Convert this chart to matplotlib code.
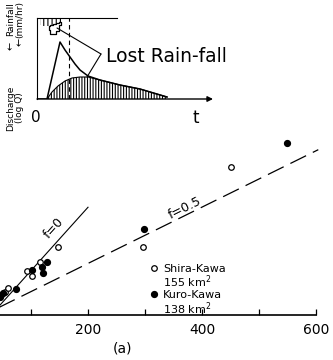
# Runoff vs rainfall sketch, with a hydrograph inset (scan re-drawn)

import matplotlib
matplotlib.use("Agg")
import matplotlib.pyplot as plt
from matplotlib.lines import Line2D

# ---------------------------------------------------------
# DATA
# ---------------------------------------------------------

# Shira-Kawa (open circles)
shira_x = [47, 54, 60, 93, 102, 116, 147, 296, 451]
shira_y = [35, 40, 47, 77, 68, 93, 119, 119, 260]

# Kuro-Kawa (filled circles)
kuro_x = [46, 51, 74, 102, 119, 121, 128, 298, 549]
kuro_y = [32, 39, 46, 79, 84, 74, 93, 151, 302]

# reference lines
f0_x = [30, 200]
f0_y = [0, 189]
f05_x = [17, 604]
f05_y = [0, 290]

x_ticks = [100, 200, 300, 400, 500, 600]
x_tick_labels = ["", "200", "", "400", "", "600"]

# inset hydrograph (t, Q) in arbitrary units
hydro_t = [0, 10, 23, 28, 33, 38, 43, 51, 63, 83, 103, 130]
hydro_q = [0, 0, 57, 49, 42, 35, 29, 23, 19, 14, 10, 2]

base_t = [10, 15, 21, 28, 35, 43, 51, 63, 83, 103, 130]
base_q = [0, 7, 13, 18, 21, 22, 22, 19, 14, 10, 2]

rain_t = [2.5, 5.5, 8.5, 11.5, 14.5, 17.5, 20.5, 23.5]
rain_eff = [7, 8, 8, 8, 7, 6, 5, 4]
rain_loss = [0, 0, 0, 4, 9, 10, 8, 3]

rain_end_t = 32
rain_top = 81

# ---------------------------------------------------------
# FIGURE
# ---------------------------------------------------------

fig = plt.figure(figsize=(3.33, 3.60), dpi=100)

ax = fig.add_axes([0, 0, 1, 1])
ax.set_xlim(45.6, 629.8)
ax.set_ylim(-79, 552.6)
ax.patch.set_alpha(0)

for side in ["left", "right", "top"]:
    ax.spines[side].set_visible(False)
ax.spines["bottom"].set_position(("data", 0))
ax.spines["bottom"].set_bounds(45.6, 600)
ax.spines["bottom"].set_linewidth(1.2)

ax.set_xticks(x_ticks)
ax.set_xticklabels(x_tick_labels, fontsize=10)
ax.tick_params(axis="x", direction="in", length=4, width=0.9, pad=6)
ax.set_yticks([])

ax.plot(f0_x, f0_y, color="black", lw=0.8)
ax.plot(f05_x, f05_y, color="black", lw=0.9, dashes=(14, 6))

ax.text(140, 152, "f=0", rotation=48, rotation_mode="anchor",
        ha="center", va="center", fontsize=9)
ax.text(375, 178, "f=0.5", rotation=26.3, rotation_mode="anchor",
        ha="center", va="bottom", fontsize=9)

ax.plot(shira_x, shira_y, "o", ms=4, mfc="white", mec="black", mew=0.9,
        linestyle="none")
ax.plot(kuro_x, kuro_y, "o", ms=4.2, mfc="black", mec="black",
        linestyle="none")

ax.text(260, -58, "(a)", ha="center", va="center", fontsize=10)

# legend
handles = [
    Line2D([], [], marker="o", ms=4, mfc="white", mec="black", mew=0.9, ls="none"),
    Line2D([], [], ls="none"),
    Line2D([], [], marker="o", ms=4.2, mfc="black", mec="black", ls="none"),
    Line2D([], [], ls="none"),
]
labels = ["Shira-Kawa", "155 km$^2$", "Kuro-Kawa", "138 km$^2$"]
fig.legend(handles, labels, loc="upper left",
           bbox_to_anchor=(0.449, 0.268), frameon=False, fontsize=8,
           handlelength=0.8, handletextpad=0.4, labelspacing=0.0,
           borderpad=0, borderaxespad=0)

# ---------------------------------------------------------
# INSET HYDROGRAPH
# ---------------------------------------------------------

ax_in = fig.add_axes([37 / 333, 1 - 99 / 360, 173 / 333, 81 / 360])
ax_in.set_xlim(0, 173)
ax_in.set_ylim(0, 81)
ax_in.patch.set_alpha(0)
ax_in.set_xticks([])
ax_in.set_yticks([])
ax_in.spines["right"].set_visible(False)
ax_in.spines["bottom"].set_visible(False)
ax_in.spines["top"].set_bounds(0, 80)

plt.rcParams["hatch.linewidth"] = 0.8

ax_in.fill_between(base_t, 0, base_q, facecolor="none", edgecolor="black",
                   hatch="||||||", linewidth=0)
ax_in.plot(base_t, base_q, color="black", lw=0.8)
ax_in.plot(hydro_t, hydro_q, color="black", lw=1.1)

# rainfall hanging from the top line, lost part outlined below it
eff_bottom = [rain_top - d for d in rain_eff]
loss_bottom = [b - l for b, l in zip(eff_bottom, rain_loss)]
ax_in.fill_between(rain_t, rain_top, eff_bottom, step="mid",
                   facecolor="none", edgecolor="black", hatch="||||",
                   linewidth=0)
ax_in.fill_between(rain_t[3:], eff_bottom[3:], loss_bottom[3:], step="mid",
                   facecolor="white", edgecolor="black", linewidth=0.9)

ax_in.axvline(rain_end_t, color="black", lw=0.8, dashes=(4, 3))

ax_in.annotate("", xy=(176, 0), xytext=(0, 0), annotation_clip=False,
               arrowprops=dict(arrowstyle="-|>", color="black", lw=1,
                               mutation_scale=8, shrinkA=0, shrinkB=0))

for target in [(20, 71), (50, 22)]:
    ax_in.annotate("", xy=target, xytext=(64, 45),
                   arrowprops=dict(arrowstyle="-", color="black", lw=0.8,
                                   shrinkA=0, shrinkB=0))
ax_in.text(69, 42, "Lost Rain-fall", ha="left", va="center", fontsize=13.5)

ax_in.text(-1, -18, "0", ha="center", va="center", fontsize=11, clip_on=False)
ax_in.text(159, -19, "t", ha="center", va="center", fontsize=12, clip_on=False)

# rotated axis captions of the inset
fig.text(11 / 333, 1 - 19 / 360, "Rainfall", rotation=90, ha="center",
         va="center", fontsize=6.5)
fig.text(20 / 333, 1 - 19 / 360, "(mm/hr)", rotation=90, ha="center",
         va="center", fontsize=6.5)
fig.text(11 / 333, 1 - 46 / 360, "\u2190", rotation=90, ha="center",
         va="center", fontsize=7)
fig.text(20 / 333, 1 - 42 / 360, "\u2190", rotation=90, ha="center",
         va="center", fontsize=7)
fig.text(11 / 333, 1 - 108 / 360, "Discharge", rotation=90, ha="center",
         va="center", fontsize=6.5)
fig.text(20 / 333, 1 - 108 / 360, "(log Q)", rotation=90, ha="center",
         va="center", fontsize=6.5)

fig.savefig("out.png", dpi=100)
